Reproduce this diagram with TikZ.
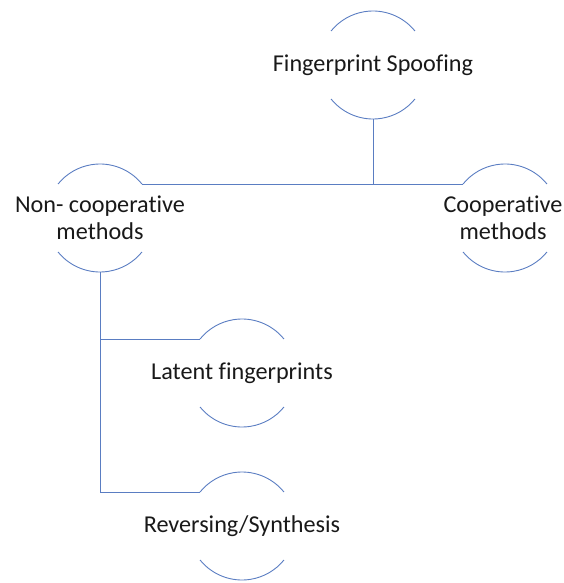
\documentclass[tikz,border=0pt]{standalone}
\usepackage{fontspec}
\setmainfont[Ligatures=NoCommon]{Carlito}
\usepackage{tikz}
\definecolor{lineblue}{HTML}{5A7DC2}

\begin{document}
\begin{tikzpicture}[x=1pt,y=1pt]
\tikzstyle{ring} = [circle,minimum size=108pt,inner sep=0pt,outer sep=0pt]
\tikzstyle{title} = [align=center,font=\fontsize{24.2}{27}\selectfont,text=black!90]
\tikzstyle{arcs} = [color=lineblue,line width=0.9pt]
\tikzstyle{edge} = [color=lineblue,line width=1pt]

\useasboundingbox (0,-583) rectangle (563,0);

\node[ring] (fs) at (373,-65) {};
\node[ring] (nc) at (100,-218) {};
\node[ring] (co) at (505,-218) {};
\node[ring] (lf) at (242,-373) {};
\node[ring] (rs) at (242,-526) {};

\node[title] (fsT) at (fs) {Fingerprint Spoofing};
\node[title] (ncT) at (nc) {Non- cooperative\\methods};
\node[title] (coT) at ([xshift=-2pt]co) {Cooperative\\methods};
\node[title] (lfT) at (lf) {Latent fingerprints};
\node[title] (rsT) at (rs) {Reversing/Synthesis};

% half rings above and below each label
\foreach \n in {fs,nc,co,lf,rs}{
  \draw[arcs] (\n.39) arc (39:141:54pt);
  \draw[arcs] (\n.219) arc (219:321:54pt);
}

\draw[edge] (fs.south) -- (fs.south |- nc.39);
\draw[edge] (nc.39) -- (co.141);
\draw[edge] (nc.south) |- (rs.141);
\draw[edge] (nc.south |- lf.141) -- (lf.141);

\end{tikzpicture}
\end{document}
